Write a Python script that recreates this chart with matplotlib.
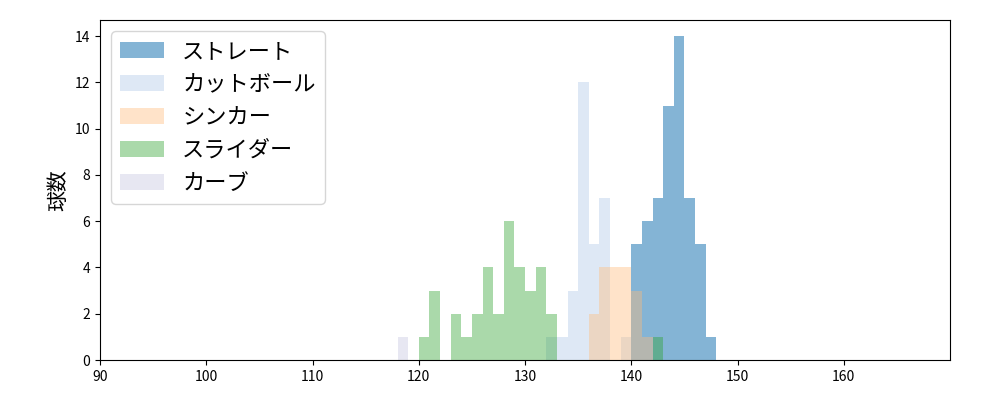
import matplotlib
matplotlib.use("Agg")
import matplotlib.pyplot as plt
import numpy as np

plt.rcParams['font.family'] = ['Noto Sans CJK JP', 'DejaVu Sans']

straight_speed = [140, 141, 142, 143, 144, 145, 146, 147]
straight_count = [5, 6, 7, 11, 14, 7, 5, 1]
cut_speed = [132, 133, 134, 135, 136, 137, 139]
cut_count = [1, 1, 3, 12, 5, 7, 1]
sinker_speed = [136, 137, 138, 139, 140, 141]
sinker_count = [2, 4, 4, 4, 3, 1]
slider_speed = [120, 121, 123, 124, 125, 126, 127, 128, 129, 130, 131, 132, 142]
slider_count = [1, 3, 2, 1, 2, 4, 2, 6, 4, 3, 4, 2, 1]
curve_speed = [118]
curve_count = [1]

series = [
    ("ストレート", straight_speed, straight_count, "#1f77b4", 0.55),
    ("カットボール", cut_speed, cut_count, "#aec7e8", 0.4),
    ("シンカー", sinker_speed, sinker_count, "#ffbb78", 0.4),
    ("スライダー", slider_speed, slider_count, "#2ca02c", 0.4),
    ("カーブ", curve_speed, curve_count, "#c5c5e0", 0.4),
]

edges = np.arange(90, 171, 1)
fig, ax = plt.subplots(figsize=(10, 4), dpi=100)
for name, sp, ct, col, a in series:
    ax.hist(np.array(sp) + 0.5, bins=edges, weights=ct, color=col, alpha=a, label=name)

ax.set_xlim(90, 170)
ax.set_ylim(0, 14.7)
ax.set_xticks(range(90, 170, 10))
ax.set_yticks(range(0, 15, 2))
ax.set_ylabel("球数", fontsize=15)
ax.legend(loc="upper left", fontsize=16, labelspacing=0.45)
fig.subplots_adjust(left=0.1, right=0.95, top=0.95, bottom=0.1)
fig.savefig("out.png")
